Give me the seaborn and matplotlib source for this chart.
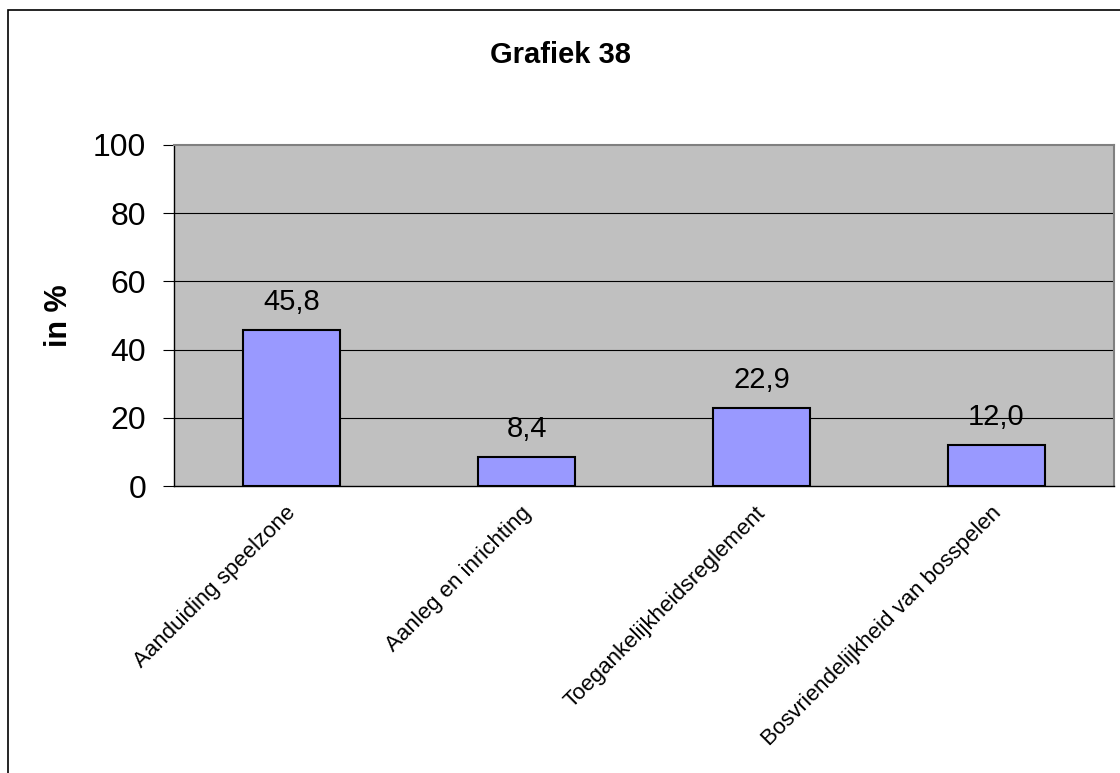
"""Grafiek 38: bar chart in Excel style."""

import matplotlib

matplotlib.use("Agg")
import matplotlib.pyplot as plt
import matplotlib.transforms as mtransforms
import numpy as np
import seaborn as sns
from matplotlib.patches import Rectangle

categories = [
    "Aanduiding speelzone",
    "Aanleg en inrichting",
    "Toegankelijkheidsreglement",
    "Bosvriendelijkheid van bosspelen",
]
values = [45.8, 8.4, 22.9, 12.0]
y_ticks = [0, 20, 40, 60, 80, 100]
title = "Grafiek 38"
y_label = "in %"

sns.set_style("white")
plt.rcParams["font.family"] = ["Liberation Sans", "DejaVu Sans"]
plt.rcParams["text.color"] = "black"
plt.rcParams["xtick.color"] = "black"
plt.rcParams["ytick.color"] = "black"
plt.rcParams["axes.labelcolor"] = "black"

fig = plt.figure(figsize=(11.2, 7.73), dpi=100)
ax = fig.add_axes([174 / 1120, 1 - 486 / 773, 940 / 1120, 341 / 773])
ax.set_facecolor("#C0C0C0")

sns.barplot(
    x=categories,
    y=values,
    color="#9999FF",
    saturation=1,
    edgecolor="black",
    linewidth=1.5,
    width=0.41,
    ax=ax,
    zorder=3,
)

ax.set_xlim(-0.5, len(categories) - 0.5)
ax.set_ylim(0, 100)
ax.set_yticks(y_ticks)
ax.set_yticklabels([str(t) for t in y_ticks], fontsize=23)
for t in y_ticks[1:-1]:
    ax.axhline(t, color="black", linewidth=0.8, zorder=1)

ax.set_xticks(range(len(categories)))
ax.set_xticklabels(categories, rotation=45, ha="right", rotation_mode="anchor", fontsize=16)
ax.tick_params(axis="x", length=0, pad=12)
shift = mtransforms.ScaledTranslation(-6 / 100, 0, fig.dpi_scale_trans)
for lab in ax.get_xticklabels():
    lab.set_transform(lab.get_transform() + shift)
ax.set_xticks(np.arange(-0.5, len(categories)), minor=True)
ax.tick_params(axis="x", which="minor", length=7, width=0.8, color="black", direction="out")
ax.tick_params(axis="y", length=8, width=0.8, color="black", direction="out", left=True, pad=12)

for side in ["left", "bottom"]:
    ax.spines[side].set_color("black")
    ax.spines[side].set_linewidth(1.0)
for side in ["top", "right"]:
    ax.spines[side].set_color("#808080")
    ax.spines[side].set_linewidth(1.5)

for i, v in enumerate(values):
    ax.annotate(
        f"{v:.1f}".replace(".", ","),
        (i, v),
        xytext=(0, 10),
        textcoords="offset points",
        ha="center",
        va="bottom",
        fontsize=21,
        zorder=4,
    )

ax.set_xlabel("")
ax.set_ylabel(y_label, fontsize=22, fontweight="bold", labelpad=14)
fig.text(0.5, 1 - 55 / 773, title, ha="center", va="center", fontsize=21, fontweight="bold")

# chart border, cut off at the right and bottom edge
fig.patches.append(
    Rectangle((8 / 1120, -0.2), 1.2, 1.2 - 10 / 773, transform=fig.transFigure,
              fill=False, edgecolor="black", linewidth=1.2)
)

fig.savefig("out.png", dpi=100)
plt.close(fig)
